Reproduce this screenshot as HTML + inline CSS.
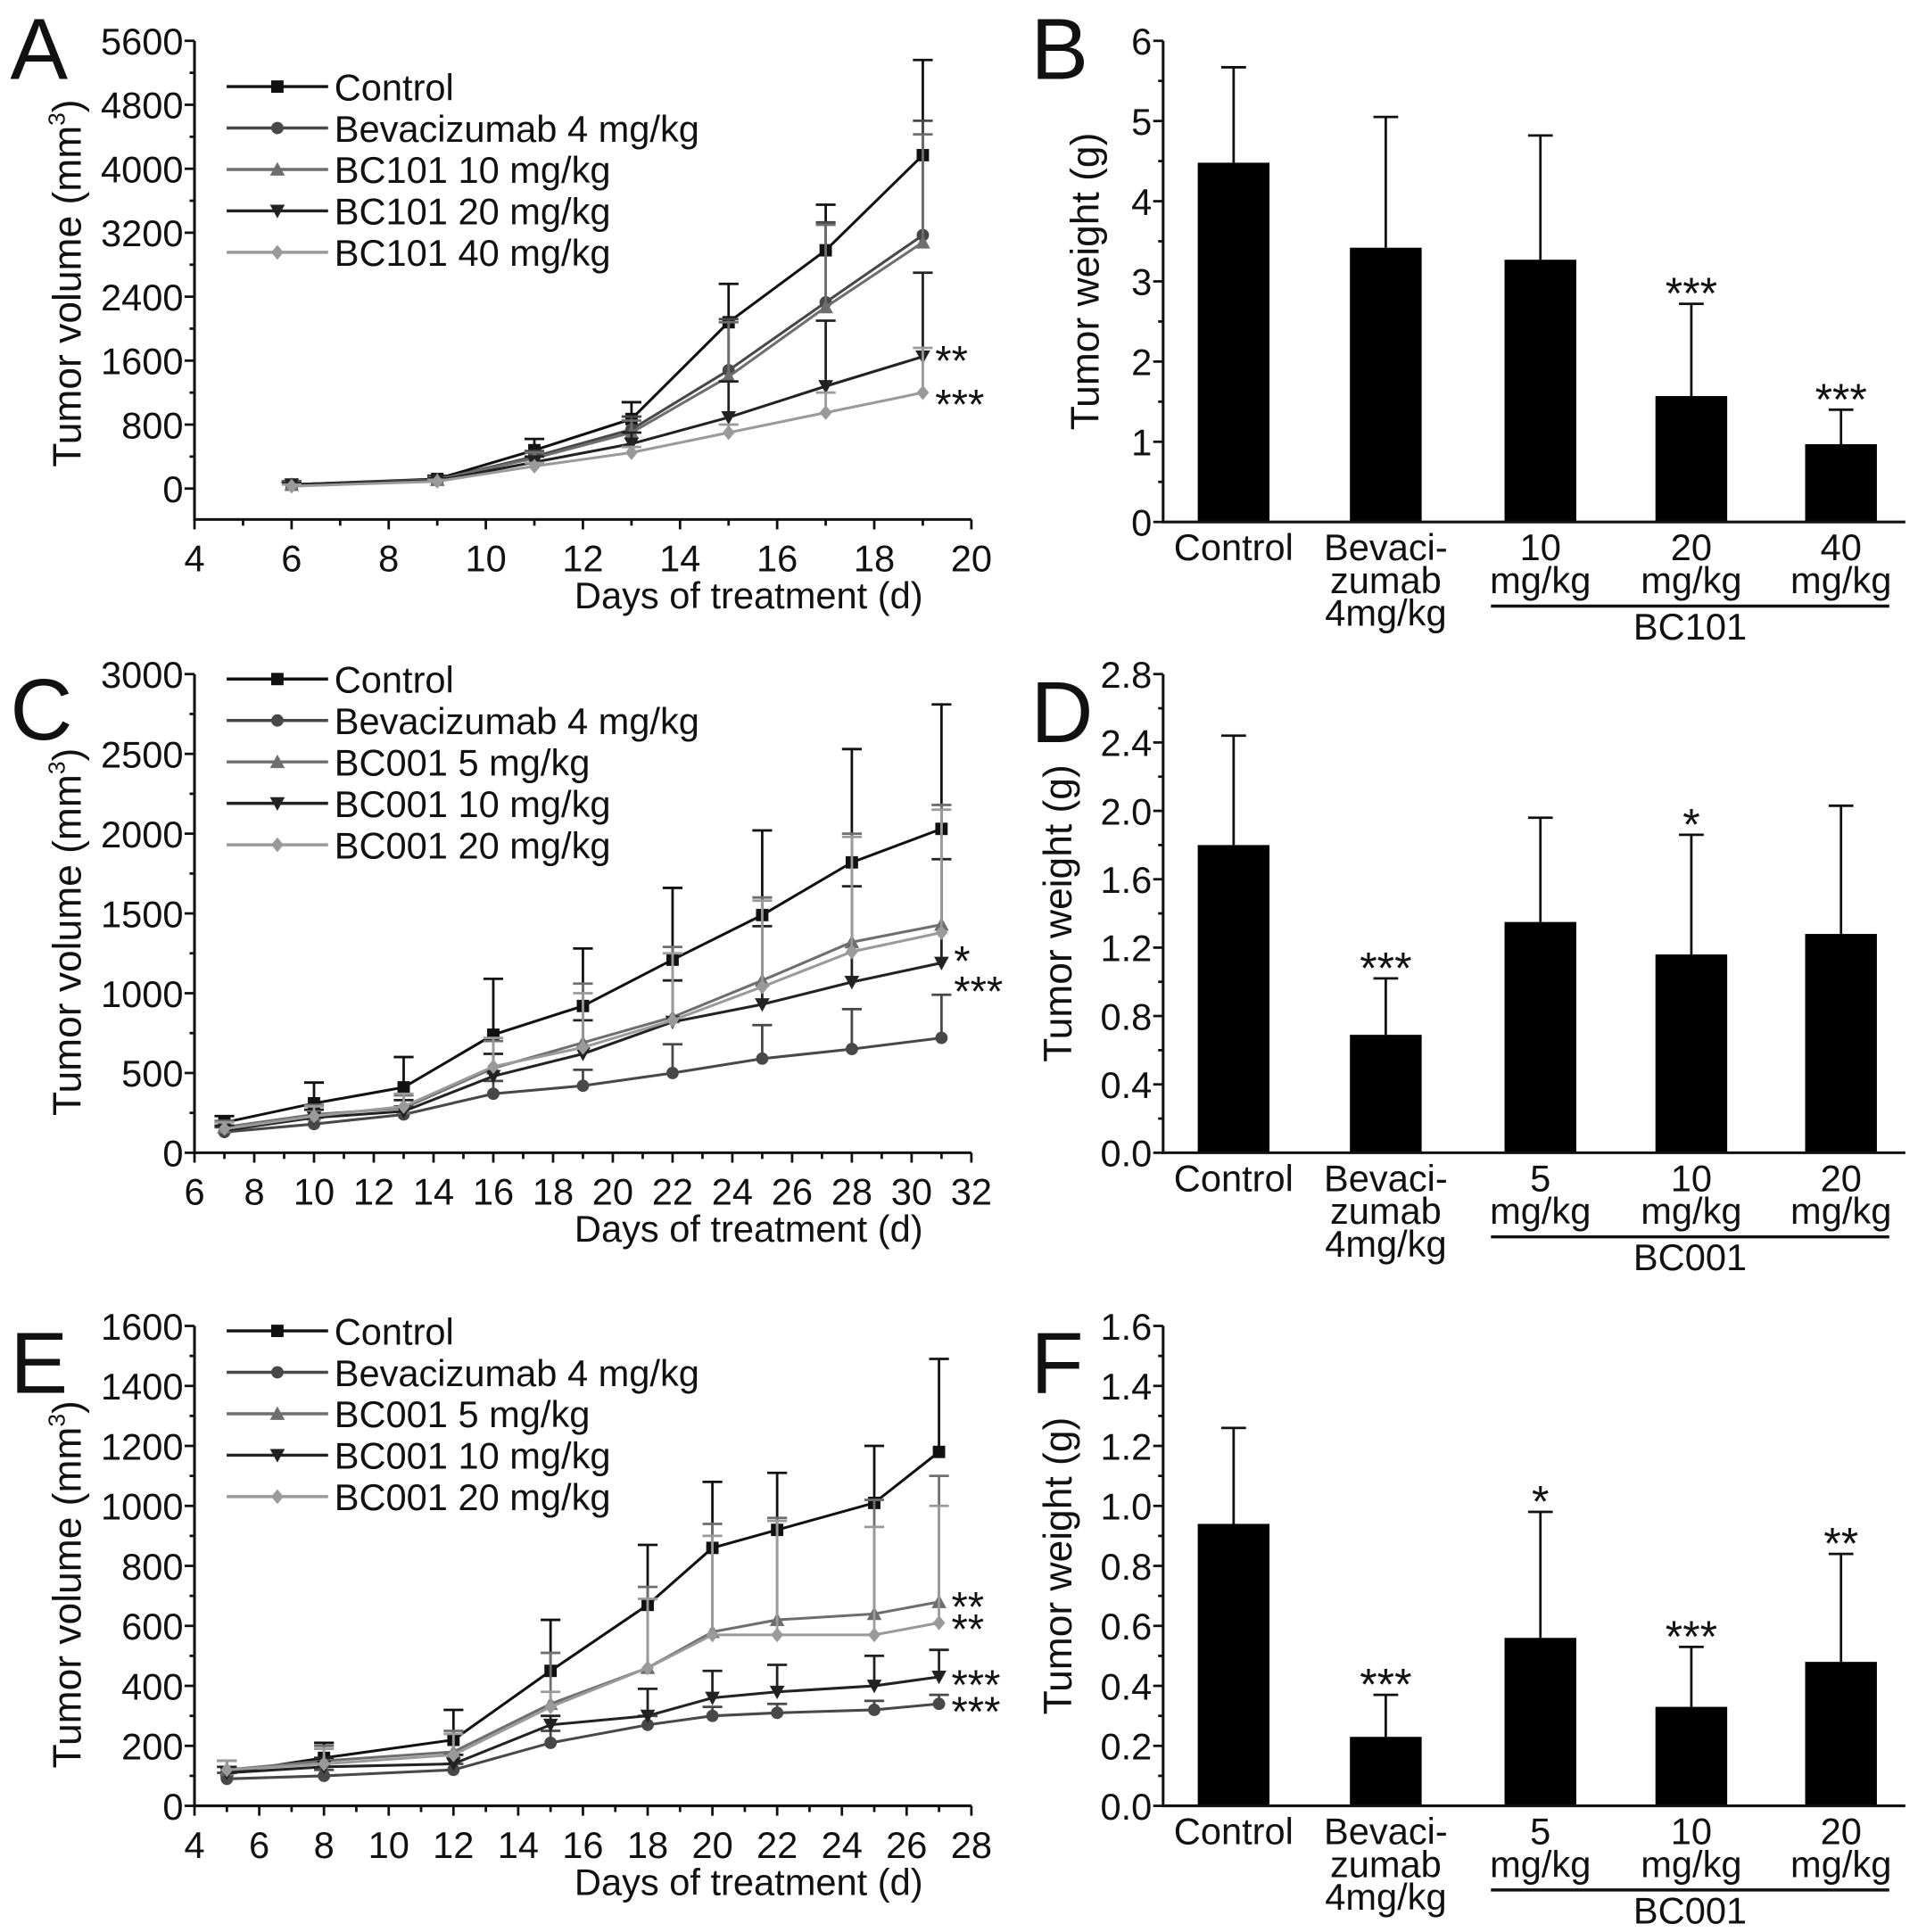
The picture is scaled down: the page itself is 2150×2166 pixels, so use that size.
<!DOCTYPE html>
<html><head><meta charset="utf-8"><style>
html,body{margin:0;padding:0;background:#fff;}
svg{display:block;}
text{font-family:"Liberation Sans",Arial,sans-serif;fill:#111;}
</style></head><body>
<svg id="fig" width="2150" height="2166" viewBox="0 0 1550 1562" xmlns="http://www.w3.org/2000/svg"></svg>
<script>
// ---------- Panel A data ----------
const daysA = [6, 9, 11, 13, 15, 17, 19];
const aControl = [50, 120, 480, 870, 2080, 2980, 4170];
const aControlHi = [90, 160, 620, 1080, 2560, 3550, 5360];
const aBev = [50, 110, 400, 740, 1480, 2330, 3170];
const aBevHi = [80, 150, 470, 900, 2120, 3330, 4600];
const aBC10 = [50, 110, 380, 700, 1400, 2270, 3080];
const aBC10Hi = [80, 140, 450, 850, 2080, 3300, 4430];
const aBC20 = [50, 100, 330, 560, 890, 1280, 1650];
const aBC20Hi = [70, 130, 400, 700, 1340, 2100, 2700];
const aBC40 = [30, 90, 280, 450, 700, 950, 1200];
const aBC40Hi = [50, 110, 320, 520, 800, 1200, 1760];
const ticksYA = [0, 800, 1600, 2400, 3200, 4000, 4800, 5600];
const ticksXA = [4, 6, 8, 10, 12, 14, 16, 18, 20];
const legendA = ["Control", "Bevacizumab 4 mg/kg", "BC101 10 mg/kg", "BC101 20 mg/kg", "BC101 40 mg/kg"];
// ---------- Panel B data ----------
const catsB = [["Control"], ["Bevaci-", "zumab", "4mg/kg"], ["10", "mg/kg"], ["20", "mg/kg"], ["40", "mg/kg"]];
const valsB = [4.48, 3.42, 3.27, 1.57, 0.97];
const errB = [5.67, 5.05, 4.82, 2.72, 1.40];
const starsB = ["", "", "", "***", "***"];
const ticksYB = [0, 1, 2, 3, 4, 5, 6];
const tickLblB = ["0", "1", "2", "3", "4", "5", "6"];
// ---------- Panel C data ----------
const daysC = [7, 10, 13, 16, 19, 22, 25, 28, 31];
const cControl = [190, 310, 410, 740, 920, 1210, 1490, 1820, 2030];
const cControlHi = [230, 440, 600, 1090, 1280, 1660, 2020, 2530, 2810];
const cBev = [130, 180, 240, 370, 420, 500, 590, 650, 720];
const cBevHi = [160, 220, 290, 450, 520, 680, 800, 900, 990];
const cBC5 = [160, 240, 280, 530, 690, 850, 1080, 1320, 1430];
const cBC5Hi = [200, 300, 360, 700, 1060, 1290, 1600, 2000, 2180];
const cBC10 = [140, 220, 260, 480, 620, 820, 930, 1070, 1190];
const cBC10Hi = [170, 270, 330, 620, 830, 1080, 1420, 1670, 1840];
const cBC20 = [150, 230, 290, 540, 660, 830, 1040, 1260, 1380];
const cBC20Hi = [190, 290, 370, 720, 1000, 1250, 1580, 1980, 2150];
const ticksYC = [0, 500, 1000, 1500, 2000, 2500, 3000];
const ticksXC = [6, 8, 10, 12, 14, 16, 18, 20, 22, 24, 26, 28, 30, 32];
const legendC = ["Control", "Bevacizumab 4 mg/kg", "BC001 5 mg/kg", "BC001 10 mg/kg", "BC001 20 mg/kg"];
// ---------- Panel D data ----------
const catsD = [["Control"], ["Bevaci-", "zumab", "4mg/kg"], ["5", "mg/kg"], ["10", "mg/kg"], ["20", "mg/kg"]];
const valsD = [1.80, 0.69, 1.35, 1.16, 1.28];
const errD = [2.44, 1.02, 1.96, 1.86, 2.03];
const starsD = ["", "***", "", "*", ""];
const ticksYD = [0, 0.4, 0.8, 1.2, 1.6, 2.0, 2.4, 2.8];
const tickLblD = ["0.0", "0.4", "0.8", "1.2", "1.6", "2.0", "2.4", "2.8"];
// ---------- Panel E data ----------
const daysE = [5, 8, 12, 15, 18, 20, 22, 25, 27];
const eControl = [110, 160, 220, 450, 670, 860, 920, 1010, 1180];
const eControlHi = [150, 210, 320, 620, 870, 1080, 1110, 1200, 1490];
const eBev = [90, 100, 120, 210, 270, 300, 310, 320, 340];
const eBevHi = [110, 120, 140, 250, 300, 330, 340, 350, 370];
const eBC5 = [120, 150, 180, 340, 460, 580, 620, 640, 680];
const eBC5Hi = [150, 200, 250, 510, 730, 940, 960, 1020, 1100];
const eBC10 = [110, 130, 140, 270, 300, 360, 380, 400, 430];
const eBC10Hi = [130, 160, 170, 300, 390, 450, 470, 500, 520];
const eBC20 = [120, 140, 170, 330, 460, 570, 570, 570, 610];
const eBC20Hi = [150, 190, 240, 380, 690, 900, 950, 930, 1000];
const ticksYE = [0, 200, 400, 600, 800, 1000, 1200, 1400, 1600];
const ticksXE = [4, 6, 8, 10, 12, 14, 16, 18, 20, 22, 24, 26, 28];
const legendE = ["Control", "Bevacizumab 4 mg/kg", "BC001 5 mg/kg", "BC001 10 mg/kg", "BC001 20 mg/kg"];
// ---------- Panel F data ----------
const catsF = [["Control"], ["Bevaci-", "zumab", "4mg/kg"], ["5", "mg/kg"], ["10", "mg/kg"], ["20", "mg/kg"]];
const valsF = [0.94, 0.23, 0.56, 0.33, 0.48];
const errF = [1.26, 0.37, 0.98, 0.53, 0.84];
const starsF = ["", "***", "*", "***", "**"];
const ticksYF = [0, 0.2, 0.4, 0.6, 0.8, 1.0, 1.2, 1.4, 1.6];
const tickLblF = ["0.0", "0.2", "0.4", "0.6", "0.8", "1.0", "1.2", "1.4", "1.6"];

const NS = "http://www.w3.org/2000/svg";
const svg = document.getElementById("fig");
function mk(tag, attrs, parent) {
  const e = document.createElementNS(NS, tag);
  for (const k in attrs) e.setAttribute(k, attrs[k]);
  (parent || svg).appendChild(e);
  return e;
}
function txt(s, x, y, size, anchor, parent, extra) {
  const t = mk("text", Object.assign({x: x, y: y, "font-size": size, "text-anchor": anchor || "middle"}, extra || {}), parent);
  t.textContent = s;
  return t;
}
const colors = ["#111", "#484848", "#6e6e6e", "#222", "#9a9a9a"];
const markers = ["square", "circle", "up", "down", "diamond"];
function marker(g, type, x, y, c) {
  const s = 5;
  if (type === "square") return mk("rect", {x: x - s, y: y - s, width: 2 * s, height: 2 * s, fill: c}, g);
  if (type === "circle") return mk("circle", {cx: x, cy: y, r: s, fill: c}, g);
  if (type === "up") return mk("polygon", {points: `${x},${y - s - 1} ${x - s - 1},${y + s} ${x + s + 1},${y + s}`, fill: c}, g);
  if (type === "down") return mk("polygon", {points: `${x},${y + s + 1} ${x - s - 1},${y - s} ${x + s + 1},${y - s}`, fill: c}, g);
  return mk("polygon", {points: `${x},${y - s - 1} ${x + s},${y} ${x},${y + s + 1} ${x - s},${y}`, fill: c}, g);
}

function lineChart(o) {
  const g = mk("g", {});
  
  
  const X = v => o.x0 + (v - o.xmin) / (o.xmax - o.xmin) * (o.x1 - o.x0);
  const Y = v => o.yb - (v - o.ymin) / (o.ymax - o.ymin) * (o.yb - o.yt);
  const L = txt(o.letter, o.lx, o.ly, 70, "start", g);
  
  
  const ax = mk("path", {d: `M${o.x0},${o.yt} V${o.axisY} H${o.x1}`, stroke: "#111", "stroke-width": 2.2, fill: "none"}, g);
  
  
  o.yt_ticks.forEach((v, i) => {
    const y = Y(v);
    mk("line", {x1: o.x0 - 8, x2: o.x0, y1: y, y2: y, stroke: "#111", "stroke-width": 2}, g);
    if (i < o.yt_ticks.length - 1) {
      const ym = Y((v + o.yt_ticks[i + 1]) / 2);
      mk("line", {x1: o.x0 - 4, x2: o.x0, y1: ym, y2: ym, stroke: "#111", "stroke-width": 2}, g);
    }
    const t = txt(String(v), o.x0 - 9, y + 11, 30, "end", g);
    
    
  });
  o.xt_ticks.forEach((v, i) => {
    const x = X(v);
    mk("line", {x1: x, x2: x, y1: o.axisY, y2: o.axisY + 8, stroke: "#111", "stroke-width": 2}, g);
    if (i < o.xt_ticks.length - 1) {
      const xm = X((v + o.xt_ticks[i + 1]) / 2);
      mk("line", {x1: xm, x2: xm, y1: o.axisY, y2: o.axisY + 5, stroke: "#111", "stroke-width": 2}, g);
    }
    const t = txt(String(v), x, o.axisY + 42, 30, "middle", g);
    
    
  });
  const xt = txt("Days of treatment (d)", 605, o.axisY + 72, 30, "middle", g);
  
  
  const ytG = mk("g", {transform: `translate(${o.x0 - 92},${(o.yt + o.yb) / 2 + 15}) rotate(-90)`}, g);
  const yt = txt("", 0, 0, 32, "middle", ytG);
  
  
  yt.textContent = "Tumor volume (mm";
  const sup = mk("tspan", {"font-size": 19, dy: -13}, yt); sup.textContent = "3";
  const cl = mk("tspan", {dy: 13}, yt); cl.textContent = ")";
  o.series.forEach((s, si) => {
    const sg = mk("g", {}, g);
    
    
    const c = colors[si];
    s.v.forEach((v, i) => {
      const x = X(o.days[i]);
      const eb = mk("path", {d: `M${x},${Y(v)} V${Y(s.hi[i])} M${x - 8},${Y(s.hi[i])} H${x + 8}`, stroke: c, "stroke-width": 2, fill: "none"}, sg);
      
      
    });
    const pts = s.v.map((v, i) => X(o.days[i]) + "," + Y(v)).join(" ");
    const pl = mk("polyline", {points: pts, stroke: c, "stroke-width": 2.2, fill: "none"}, sg);
    
    
    s.v.forEach((v, i) => {
      const m = marker(sg, markers[si], X(o.days[i]), Y(v), c);
      
      
    });
  });
  o.stars.forEach(st => {
    const t = txt(st[0], X(o.days[o.days.length - 1]) + 10, Y(st[1]) + 18, 34, "start", g);
    
    
  });
  const lg = mk("g", {}, g);
  
  
  o.legend.forEach((lab, i) => {
    const y = o.legY + i * 33.5;
    const c = colors[i];
    const e = mk("g", {}, lg);
    
    
    mk("line", {x1: 183, x2: 265, y1: y, y2: y, stroke: c, "stroke-width": 2.5}, e);
    marker(e, markers[i], 224, y, c);
    txt(lab, 270, y + 11, 30, "start", e);
  });
}

function barChart(o) {
  const g = mk("g", {});
  
  
  const x0 = 940, x1 = 1540;
  const Y = v => o.yb - (v - o.ymin) / (o.ymax - o.ymin) * (o.yb - o.yt);
  const centers = [997, 1120, 1245, 1367, 1488];
  const L = txt(o.letter, 833, o.ly, 70, "start", g);
  
  
  o.vals.forEach((v, i) => {
    const cx = centers[i];
    const eb = mk("path", {d: `M${cx},${Y(v)} V${Y(o.err[i])} M${cx - 10},${Y(o.err[i])} H${cx + 10}`, stroke: "#111", "stroke-width": 2, fill: "none"}, g);
    
    
    const r = mk("rect", {x: cx - 29, y: Y(v), width: 58, height: Y(o.ymin) - Y(v), fill: "#000"}, g);
    
    
    if (o.stars[i]) {
      const t = txt(o.stars[i], cx, Y(o.err[i]) + 4, 36, "middle", g);
      
      
    }
    o.cats[i].forEach((line, li) => {
      const t = txt(line, cx, o.yb + 31 + li * 26.5, 30, "middle", g);
      
      
    });
  });
  const ax = mk("path", {d: `M${x0},${o.yt} V${o.yb} H${x1}`, stroke: "#111", "stroke-width": 2.2, fill: "none"}, g);
  
  
  o.ticks.forEach((v, i) => {
    const y = Y(v);
    mk("line", {x1: x0 - 8, x2: x0, y1: y, y2: y, stroke: "#111", "stroke-width": 2}, g);
    if (i < o.ticks.length - 1) {
      const ym = Y((v + o.ticks[i + 1]) / 2);
      mk("line", {x1: x0 - 4, x2: x0, y1: ym, y2: ym, stroke: "#111", "stroke-width": 2}, g);
    }
    const t = txt(o.tickLbl[i], x0 - 9, y + 11, 30, "end", g);
    
    
  });
  const bl = mk("line", {x1: 1205, x2: 1527, y1: o.yb + 68, y2: o.yb + 68, stroke: "#111", "stroke-width": 2.5}, g);
  
  
  const gt = txt(o.group, 1366, o.yb + 95, 30, "middle", g);
  
  
  const ytG = mk("g", {transform: `translate(${o.ytx},${(o.yt + o.yb) / 2}) rotate(-90)`}, g);
  const yt = txt("Tumor weight (g)", 0, 0, 32, "middle", ytG);
  
  
}

lineChart({name: "panel-a-tumor-volume", letter: "A", lx: 8, ly: 64, x0: 157, x1: 785, xmin: 4, xmax: 20, yt: 33, yb: 395, axisY: 420, ymin: 0, ymax: 5600,
  days: daysA, yt_ticks: ticksYA, xt_ticks: ticksXA, legend: legendA, legY: 70,
  series: [{v: aControl, hi: aControlHi}, {v: aBev, hi: aBevHi}, {v: aBC10, hi: aBC10Hi}, {v: aBC20, hi: aBC20Hi}, {v: aBC40, hi: aBC40Hi}],
  stars: [["**", 1700], ["***", 1150]]});
barChart({name: "panel-b-tumor-weight", letter: "B", ly: 64, yt: 33, yb: 422, ymin: 0, ymax: 6, ticks: ticksYB, tickLbl: tickLblB,
  vals: valsB, err: errB, stars: starsB, cats: catsB, group: "BC101", ytx: 888});
lineChart({name: "panel-c-tumor-volume", letter: "C", lx: 8, ly: 598, x0: 157, x1: 785, xmin: 6, xmax: 32, yt: 545, yb: 932, axisY: 932, ymin: 0, ymax: 3000,
  days: daysC, yt_ticks: ticksYC, xt_ticks: ticksXC, legend: legendC, legY: 549,
  series: [{v: cControl, hi: cControlHi}, {v: cBev, hi: cBevHi}, {v: cBC5, hi: cBC5Hi}, {v: cBC10, hi: cBC10Hi}, {v: cBC20, hi: cBC20Hi}],
  stars: [["*", 1250], ["***", 1060]]});
barChart({name: "panel-d-tumor-weight", letter: "D", ly: 600, yt: 545, yb: 932, ymin: 0, ymax: 2.8, ticks: ticksYD, tickLbl: tickLblD,
  vals: valsD, err: errD, stars: starsD, cats: catsD, group: "BC001", ytx: 866});
lineChart({name: "panel-e-tumor-volume", letter: "E", lx: 8, ly: 1126, x0: 157, x1: 785, xmin: 4, xmax: 28, yt: 1072, yb: 1460, axisY: 1460, ymin: 0, ymax: 1600,
  days: daysE, yt_ticks: ticksYE, xt_ticks: ticksXE, legend: legendE, legY: 1076,
  series: [{v: eControl, hi: eControlHi}, {v: eBev, hi: eBevHi}, {v: eBC5, hi: eBC5Hi}, {v: eBC10, hi: eBC10Hi}, {v: eBC20, hi: eBC20Hi}],
  stars: [["**", 690], ["**", 615], ["***", 430], ["***", 340]]});
barChart({name: "panel-f-tumor-weight", letter: "F", ly: 1126, yt: 1072, yb: 1460, ymin: 0, ymax: 1.6, ticks: ticksYF, tickLbl: tickLblF,
  vals: valsF, err: errF, stars: starsF, cats: catsF, group: "BC001", ytx: 866});
</script>
</body></html>
